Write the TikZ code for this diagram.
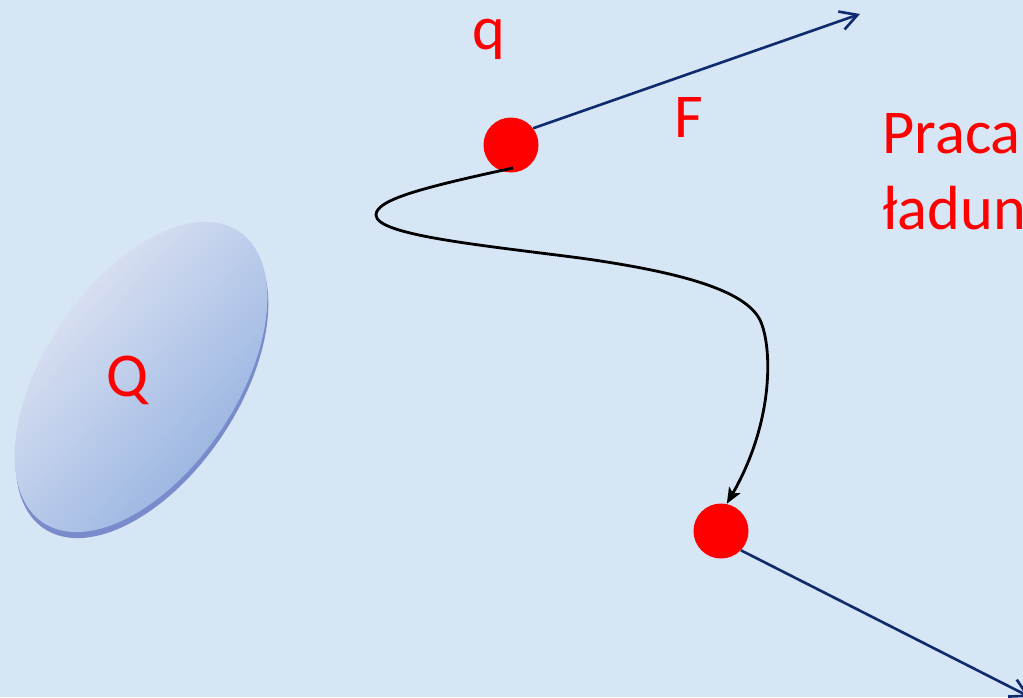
\documentclass[tikz,border=0pt]{standalone}
\usepackage{fontspec}
\setmainfont{Carlito}
\usetikzlibrary{arrows.meta,shapes.geometric,shadows,calc}

\definecolor{bgblue}{RGB}{214,230,245}
\definecolor{navy}{RGB}{16,42,110}
\definecolor{blobhi}{RGB}{232,234,245}
\definecolor{bloblo}{RGB}{146,176,224}

\begin{document}
\begin{tikzpicture}[
    x=0.02cm, y=-0.02cm,
    lbl/.style={text=red, font=\fontsize{35.5}{44}\selectfont, inner sep=0pt, anchor=base west},
    charge/.style={circle, fill=red, inner sep=0pt, minimum size=1.1cm},
    force/.style={draw=navy, line width=1.5pt, -{Straight Barb[length=3.4mm,width=3.8mm]}},
    route/.style={draw=black, line width=1.6pt, -{Stealth[length=3.2mm,width=2.6mm,inset=0.8mm]}}]
  \fill[bgblue] (0,0) rectangle (1023,697);
  \useasboundingbox (0,0) rectangle (1023,697);
  \clip (0,0) rectangle (1023,697);
  % source charge
  \node[ellipse, rotate=56, minimum width=7.02cm, minimum height=3.84cm, inner sep=0pt,
    top color=blobhi, bottom color=bloblo, shading angle=48,
    drop shadow={shadow xshift=0.2mm, shadow yshift=-1.2mm, fill=navy!70!blue, opacity=0.45}] (srcQ) at (141,377) {};
  \node[lbl] (bigQ) at (106,396) {Q};
  % test charge, start and end
  \node[charge] (qdot) at (511,145) {};
  \node[charge] (pdot) at (721,531) {};
  \node[lbl] (smallq) at (472,49) {q};
  \node[lbl] (force) at (674,137) {F};
  \node[lbl] (work) at (882,153) {Praca};
  \node[lbl] (work2) at ([yshift=-1.54cm]work.base west) {ładun};
  \coordinate (ftip) at (860,14);
  \coordinate (gtip) at (1030,697);
  \draw[force] (qdot.37) -- (ftip);
  \draw[force] (pdot.-44) -- (gtip);
  \draw[route] ($(qdot)+(2,23)$) .. controls (420,188) and (376,200) .. (376,215)
    .. controls (376,235) and (480,245) .. (580,258)
    .. controls (680,272) and (745,290) .. (760,320)
    .. controls (772,345) and (775,420) .. (pdot.78);
\end{tikzpicture}
\end{document}
